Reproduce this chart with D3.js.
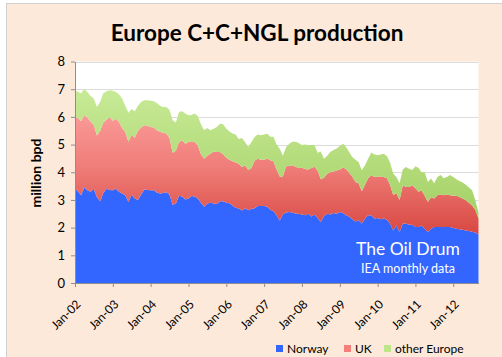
<!DOCTYPE html>
<html><head><meta charset="utf-8">
<script src="https://cdn.jsdelivr.net/npm/d3@7"></script>
<style>
html,body{margin:0;padding:0;background:#fff;}
svg{display:block;}
text{font-family:Lato,"Open Sans",sans-serif;}
</style></head>
<body>
<svg id="chart" width="502" height="357"></svg>
<script>
// ---- data (million bpd, monthly from Jan-2002) ----
const startMonth = new Date(2002, 0, 1);
const seriesNames = ["Norway", "UK", "other Europe"];
const norway = [
3.41,3.30,3.17,3.46,3.35,3.30,3.40,3.10,2.95,3.25,
3.40,3.36,3.35,3.40,3.30,3.23,3.17,2.93,3.20,3.05,
3.00,3.20,3.38,3.36,3.35,3.35,3.27,3.23,3.25,3.28,
3.20,2.83,2.87,3.15,3.12,3.02,3.05,3.14,3.12,3.05,
2.90,2.75,2.87,2.90,2.87,2.85,2.95,2.95,2.90,2.88,
2.80,2.72,2.69,2.62,2.70,2.63,2.68,2.70,2.78,2.78,
2.78,2.75,2.65,2.60,2.45,2.25,2.48,2.55,2.56,2.55,
2.50,2.50,2.47,2.45,2.50,2.40,2.47,2.35,2.20,2.42,
2.50,2.47,2.53,2.50,2.56,2.53,2.45,2.40,2.30,2.22,
2.27,2.15,2.33,2.45,2.44,2.33,2.35,2.30,2.33,2.28,
2.15,1.90,2.08,1.84,2.15,2.15,2.10,2.10,2.02,2.02,
2.08,1.96,1.84,1.96,2.02,2.02,2.02,2.02,2.02,2.02,
1.99,1.96,1.94,1.92,1.90,1.88,1.85,1.82,1.75];
const uk = [
2.59,2.65,2.68,2.61,2.63,2.52,2.32,2.23,2.55,2.55,
2.50,2.64,2.51,2.53,2.52,2.37,2.28,2.17,2.15,2.20,
2.50,2.42,2.32,2.32,2.28,2.27,2.25,2.23,2.18,2.12,
2.05,1.87,1.91,1.94,2.03,2.01,2.04,1.98,1.97,1.92,
1.75,1.74,1.73,1.77,1.88,1.88,1.78,1.70,1.62,1.57,
1.60,1.63,1.62,1.57,1.55,1.45,1.47,1.72,1.71,1.67,
1.67,1.75,1.78,1.80,1.65,1.60,1.37,1.67,1.67,1.70,
1.70,1.65,1.69,1.67,1.60,1.75,1.73,1.70,1.55,1.38,
1.45,1.53,1.50,1.56,1.54,1.64,1.67,1.58,1.55,1.43,
1.33,1.16,1.22,1.33,1.45,1.50,1.50,1.55,1.50,1.50,
1.40,1.27,1.17,1.16,1.38,1.32,1.37,1.43,1.40,1.28,
1.27,1.19,1.09,1.14,1.03,1.15,1.18,1.15,1.18,1.15,
1.16,1.19,1.17,1.13,1.09,1.02,0.95,0.83,0.58];
const otherEurope = [
0.96,0.95,1.00,0.95,0.92,0.93,0.94,1.03,1.05,1.05,
1.03,0.96,1.08,0.97,1.00,1.06,0.95,1.05,0.93,0.95,
0.90,0.92,0.90,0.92,0.95,0.94,0.98,0.94,0.93,0.96,
1.01,1.18,1.02,1.09,1.05,1.09,0.97,0.95,1.03,1.05,
1.08,1.03,1.00,0.85,0.82,0.90,1.02,1.08,1.05,1.02,
1.00,1.01,0.89,1.05,0.84,0.83,0.94,0.85,0.87,0.89,
0.91,0.89,0.85,0.88,0.90,1.00,0.75,0.68,0.80,0.85,
0.90,0.91,0.82,0.88,0.88,0.83,0.78,0.65,1.00,0.69,
0.65,0.73,0.77,0.80,0.85,0.86,0.80,0.75,0.70,0.80,
0.77,0.76,0.70,0.71,0.82,0.81,0.76,0.79,0.84,0.80,
0.80,0.78,0.58,0.60,0.57,0.72,0.66,0.55,0.80,0.85,
0.65,0.85,0.72,0.67,0.55,0.66,0.70,0.61,0.63,0.73,
0.68,0.60,0.57,0.58,0.56,0.55,0.55,0.35,0.22];
const xTickLabels = ["Jan-02","Jan-03","Jan-04","Jan-05","Jan-06","Jan-07","Jan-08","Jan-09","Jan-10","Jan-11","Jan-12"];
const yTicks = [0,1,2,3,4,5,6,7,8];

// ---- build table ----
const months = norway.map((_, i) => d3.timeMonth.offset(startMonth, i));
const table = months.map((d, i) => ({date: d, "Norway": norway[i], "UK": uk[i], "other Europe": otherEurope[i]}));
const tickDates = xTickLabels.map((_, i) => d3.timeYear.offset(startMonth, i));

const svg = d3.select("#chart");
const W = 502, H = 357;
const plot = {left: 75, right: 478.5, top: 61.5, bottom: 283};

// defs: gradients
const defs = svg.append("defs");
const gRed = defs.append("linearGradient").attr("id","gRed").attr("gradientUnits","userSpaceOnUse")
  .attr("x1",0).attr("x2",0).attr("y1",110).attr("y2",240);
gRed.append("stop").attr("offset","0%").attr("stop-color","#fb9c99");
gRed.append("stop").attr("offset","45%").attr("stop-color","#ef7c78");
gRed.append("stop").attr("offset","100%").attr("stop-color","#d6433c");
const gGreen = defs.append("linearGradient").attr("id","gGreen").attr("gradientUnits","userSpaceOnUse")
  .attr("x1",0).attr("x2",0).attr("y1",70).attr("y2",235);
gGreen.append("stop").attr("offset","0%").attr("stop-color","#cdee9e");
gGreen.append("stop").attr("offset","100%").attr("stop-color","#9fcd5f");

// chart background
svg.append("rect").attr("x",0).attr("y",0).attr("width",W).attr("height",H).attr("fill","#ffffff");
svg.append("rect").attr("x",6.5).attr("y",3.5).attr("width",W+10).attr("height",H+10)
  .attr("fill","#fde9d9").attr("stroke","#d0d0d0").attr("stroke-width",1);

// plot area
svg.append("rect").attr("x",plot.left).attr("y",plot.top)
  .attr("width",plot.right-plot.left).attr("height",plot.bottom-plot.top).attr("fill","#ffffff");

const x = d3.scaleTime().domain([months[0], months[months.length-1]]).range([plot.left, plot.right]);
const y = d3.scaleLinear().domain([0, 8]).range([plot.bottom, plot.top]);

// gridlines
svg.append("g").selectAll("line").data(yTicks.filter(v => v > 0)).join("line")
  .attr("x1",plot.left).attr("x2",plot.right)
  .attr("y1",d => Math.round(y(d)) + 0.5).attr("y2",d => Math.round(y(d)) + 0.5)
  .attr("stroke","#dcdcdc").attr("stroke-width",1);

// stacked areas
const stack = d3.stack().keys(seriesNames);
const layers = stack(table);
const fills = {"Norway": "#3366ff", "UK": "url(#gRed)", "other Europe": "url(#gGreen)"};
const area = d3.area().x(d => x(d.data.date)).y0(d => y(d[0])).y1(d => y(d[1]));
svg.append("g").selectAll("path").data(layers).join("path")
  .attr("d", area).attr("fill", d => fills[d.key]);

// axes
const axisColor = "#8e8e8e";
const gx = svg.append("g").attr("transform",`translate(0,${plot.bottom})`)
  .call(d3.axisBottom(x).tickValues(tickDates).tickFormat((d,i) => xTickLabels[i]).tickSize(4).tickSizeOuter(0));
gx.select(".domain").attr("stroke",axisColor);
gx.selectAll(".tick line").attr("stroke",axisColor);
gx.selectAll(".tick text")
  .attr("fill","#000").attr("font-size","12px").attr("font-family","Lato, sans-serif")
  .attr("text-anchor","end").attr("y",0).attr("dy","0")
  .attr("transform","translate(6,22) rotate(-45)");

const gy = svg.append("g").attr("transform",`translate(${plot.left},0)`)
  .call(d3.axisLeft(y).tickValues(yTicks).tickFormat(d3.format("d")).tickSize(4).tickSizeOuter(0).tickPadding(6));
gy.select(".domain").attr("stroke",axisColor);
gy.selectAll(".tick line").attr("stroke",axisColor);
gy.selectAll(".tick text").attr("fill","#000").attr("font-size","13px").attr("font-family","Lato, sans-serif");

// title
svg.append("text").attr("x",257).attr("y",41).attr("text-anchor","middle")
  .attr("font-size","22.5px").attr("font-weight","bold").attr("fill","#000")
  .text("Europe C+C+NGL production");

// y label
svg.append("text").attr("transform","translate(41,173) rotate(-90)").attr("text-anchor","middle")
  .attr("font-size","14px").attr("font-weight","bold").attr("fill","#000")
  .text("million bpd");

// watermark
svg.append("text").attr("x",408).attr("y",255).attr("text-anchor","middle")
  .attr("font-size","17.5px").attr("fill","#fff").text("The Oil Drum");
svg.append("text").attr("x",408).attr("y",273).attr("text-anchor","middle")
  .attr("font-size","12.5px").attr("fill","#fff").text("IEA monthly data");

// legend at the bottom
const legendItems = [
  {name: "Norway", color: "#3366ff", x: 276},
  {name: "UK", color: "#f47f7b", x: 344},
  {name: "other Europe", color: "#bde58a", x: 384}
];
const lg = svg.append("g");
legendItems.forEach(it => {
  lg.append("rect").attr("x",it.x).attr("y",345).attr("width",7).attr("height",7).attr("fill",it.color);
  lg.append("text").attr("x",it.x + 11).attr("y",353).attr("font-size","12px").attr("fill","#000").text(it.name);
});
</script>
</body></html>
